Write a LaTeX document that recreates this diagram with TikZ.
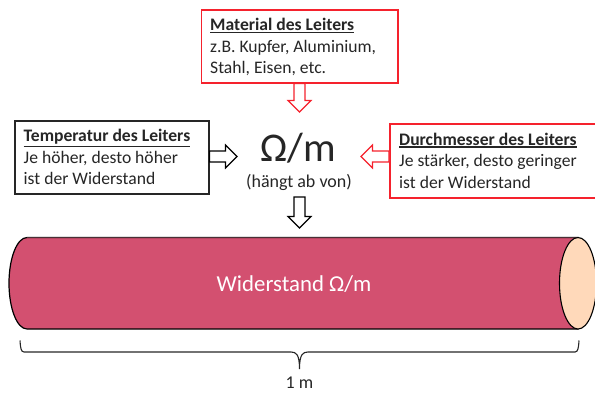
\documentclass[tikz,border=0pt]{standalone}
\usepackage{fontspec}
\setmainfont{Carlito}
\usetikzlibrary{calc}
\definecolor{txt}{HTML}{262626}
\definecolor{boxred}{HTML}{F5222D}
\definecolor{cylfill}{HTML}{D35070}
\definecolor{capfill}{HTML}{FFD9BA}
\definecolor{cyltop}{HTML}{4A2F35}
\newcommand{\uhead}[1]{\leavevmode\vtop{\hbox{\textbf{#1}}\kern 1.3pt\hrule height 1.5pt}}
\tikzset{
  infobox/.style={draw, line width=1.6pt, fill=white, anchor=north west, inner sep=0pt, text=txt},
  boxtext/.style={anchor=north west, inner sep=0pt, align=left, text=txt, font=\fontsize{17.6}{21.5}\selectfont},
  blockarrow/.style={line width=1.1pt, fill=white, miter limit=10,
    to path={
      ($(\tikztotarget)!11.5pt!(\tikztostart)$) coordinate (hb)
      ($(\tikztostart)!5.5pt!90:(\tikztotarget)$) --
      ($(hb)!5.5pt!90:(\tikztotarget)$) --
      ($(hb)!11.5pt!90:(\tikztotarget)$) --
      (\tikztotarget) --
      ($(hb)!11.5pt!-90:(\tikztotarget)$) --
      ($(hb)!5.5pt!-90:(\tikztotarget)$) --
      ($(\tikztostart)!5.5pt!-90:(\tikztotarget)$) -- cycle
    }},
  plain/.style={inner sep=0pt, text=txt}
}
\begin{document}
\begin{tikzpicture}[x=1pt,y=-1pt]
\useasboundingbox (0,0) rectangle (595,392);
% boxes
\node[infobox, draw=boxred, minimum width=196.5pt, minimum height=73pt] (mat) at (200.5,9) {};
\node[infobox, draw=black!85, minimum width=194pt, minimum height=73pt] (temp) at (14,120) {};
\node[infobox, draw=boxred, minimum width=209pt, minimum height=74pt] (dur) at (389,123) {};
\node[boxtext] (mattext) at (210,18) {\uhead{Material des Leiters}\\z.B. Kupfer, Aluminium,\\Stahl, Eisen, etc.};
\node[boxtext] (temptext) at (23.5,129) {\uhead{Temperatur des Leiters}\\Je höher, desto höher\\ist der Widerstand};
\node[boxtext] (durtext) at (399,132.5) {\uhead{Durchmesser des Leiters}\\Je stärker, desto geringer\\ist der Widerstand};
% centre
\node[plain, font=\fontsize{40.8}{42}\selectfont] (ohm) at (298.5,148) {Ω/m};
\node[plain, font=\fontsize{18}{20}\selectfont] (dep) at (299,182) {(hängt ab von)};
% cylinder
\coordinate (cr) at (578,283.25);
\draw[fill=cylfill, line width=1.2pt] (27,237.5) -- (578,237.5) -- (578,329) -- (27,329)
  arc[start angle=90, end angle=270, x radius=18, y radius=45.75] -- cycle;
\draw[cyltop, line width=1.6pt] (27,237.5) -- (578,237.5);
\draw[fill=capfill, line width=1.1pt] (cr) ellipse[x radius=18.5, y radius=45.75];
\node[plain, text=white, font=\fontsize{22.8}{26}\selectfont] (wid) at (294,284) {Widerstand Ω/m};
% connectors
\coordinate (t1) at (299.5,112);
\coordinate (t2) at (237,156.5);
\coordinate (t3) at (361,156.5);
\coordinate (t4) at (299.5,228);
\coordinate (s4) at (299.5,197);
\draw[blockarrow, draw=boxred] (mat.south -| t1) to (t1);
\draw[blockarrow, draw=black] (temp.east |- t2) to (t2);
\draw[blockarrow, draw=boxred] (dur.west |- t3) to (t3);
\draw[blockarrow, draw=black] (s4) to (t4);
% brace
\coordinate (bl) at (20,340.5);
\coordinate (br) at (579,340.5);
\coordinate (bt) at (299.5,369);
\draw[line width=1.1pt, draw=black!85] (bl) .. controls (20.5,348) and (21,352) .. (24,352)
  -- (291,352) .. controls (296,352) and (299.5,354) .. (bt)
  .. controls (299.5,354) and (303,352) .. (308,352)
  -- (575,352) .. controls (578,352) and (578.5,348) .. (br);
\node[plain, font=\fontsize{18}{20}\selectfont] (len) at (299.5,383) {1 m};
\end{tikzpicture}
\end{document}
